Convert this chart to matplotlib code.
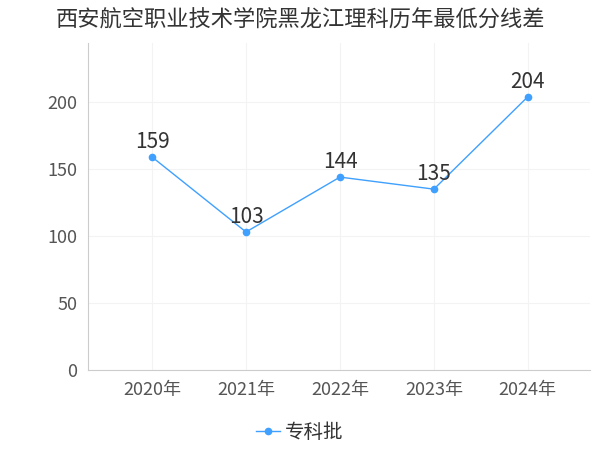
import matplotlib
matplotlib.use("Agg")
import matplotlib.pyplot as plt

plt.rcParams['font.family'] = ['Noto Sans CJK SC', 'DejaVu Sans']

years = ["2020年", "2021年", "2022年", "2023年", "2024年"]
values = [159, 103, 144, 135, 204]
series_name = "专科批"
title = "西安航空职业技术学院黑龙江理科历年最低分线差"

fig = plt.figure(figsize=(6, 4.5), dpi=100)
ax = fig.add_axes([0.147, 0.178, 0.836, 0.726])
x = list(range(len(years)))
color = "#3fa0ff"
ax.plot(x, values, color=color, lw=1, marker='o', ms=4.5, label=series_name)
for xi, v in zip(x, values):
    ax.text(xi, v + 3, str(v), ha='center', va='bottom', fontsize=15, color='#333333')
ax.set_xlim(-0.68, 4.66)
ax.set_ylim(0, 244)
ax.set_yticks([0, 50, 100, 150, 200])
ax.set_xticks(x)
ax.set_xticklabels(years)
ax.tick_params(labelsize=13, colors='#555555', length=0, pad=8)
ax.grid(True, color='#f3f3f3', lw=0.8)
ax.set_axisbelow(True)
for s in ['top', 'right']:
    ax.spines[s].set_visible(False)
for s in ['left', 'bottom']:
    ax.spines[s].set_color('#cccccc')
fig.text(0.5, 0.955, title, ha='center', va='center', fontsize=16, color='#333333')
fig.legend(loc='center', bbox_to_anchor=(0.5, 0.04), frameon=False, fontsize=14,
           handlelength=1.2, handletextpad=0.3, labelcolor='#333333')
fig.savefig("out.png", dpi=100)
